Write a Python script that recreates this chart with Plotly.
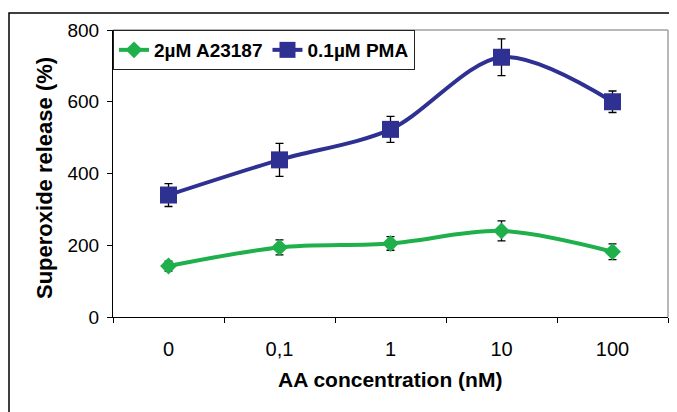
import plotly.graph_objects as go

categories = ["0", "0,1", "1", "10", "100"]
a23187_values = [142, 194, 205, 240, 182]
a23187_errors = [14, 21, 19, 28, 22]
pma_values = [340, 438, 523, 724, 600]
pma_errors = [32, 46, 36, 51, 30]
y_ticks = [0, 200, 400, 600, 800]

GREEN = "#1FB04B"
NAVY = "#2E3192"
FONT = "Liberation Sans, Arial, sans-serif"

# page body has an 8px margin; figure is placed at (8, 8) in the window
OFF = 8
PL, PR, PT, PB = 113, 668, 30, 317  # plot area in window pixels
W, H = 677 - OFF, 412 - OFF
PW, PH = PR - PL, PB - PT

fig = go.Figure()
fig.add_trace(go.Scatter(
    x=categories, y=a23187_values, name="2µM A23187",
    mode="lines+markers",
    line=dict(color=GREEN, width=4, shape="spline", smoothing=0.9),
    marker=dict(symbol="diamond", size=13, color=GREEN),
    error_y=dict(type="data", array=a23187_errors, color="black", thickness=1.3, width=4),
))
fig.add_trace(go.Scatter(
    x=categories, y=pma_values, name="0.1µM PMA",
    mode="lines+markers",
    line=dict(color=NAVY, width=4, shape="spline", smoothing=0.9),
    marker=dict(symbol="square", size=17, color=NAVY),
    error_y=dict(type="data", array=pma_errors, color="black", thickness=1.3, width=4),
))

fig.update_layout(
    width=W, height=H,
    margin=dict(l=PL - OFF, r=W - (PR - OFF), t=PT - OFF, b=H - (PB - OFF), autoexpand=False),
    paper_bgcolor="white", plot_bgcolor="white",
    showlegend=True,
    legend=dict(
        orientation="h", x=0, y=1, xanchor="left", yanchor="top",
        bordercolor="#222222", borderwidth=1, bgcolor="white",
        font=dict(family=FONT, size=19, color="black", weight="bold"),
        tracegroupgap=0,
    ),
    xaxis=dict(
        type="category", categoryorder="array", categoryarray=categories,
        tickmode="array", tickvals=categories, ticktext=categories,
        tickson="boundaries", ticks="outside", ticklen=5, tickcolor="black",
        ticklabelstandoff=14,
        showline=True, linecolor="black", linewidth=1, automargin=False,
        mirror=False, showgrid=False, zeroline=False,
        tickfont=dict(family=FONT, size=20, color="black"),
        range=[-0.5, 4.5],
    ),
    yaxis=dict(
        range=[0, 800], tickmode="array", tickvals=y_ticks,
        ticks="outside", ticklen=5, tickcolor="black",
        ticklabelstandoff=4,
        showline=True, linecolor="black", linewidth=1, automargin=False,
        showgrid=False, zeroline=False,
        tickfont=dict(family=FONT, size=19, color="black"),
    ),
    annotations=[
        dict(text="AA concentration (nM)", xref="paper", yref="paper",
             x=(390 - PL) / PW, y=(PB - 379) / PH, xanchor="center", yanchor="middle",
             showarrow=False, font=dict(family=FONT, size=21, color="black", weight="bold")),
        dict(text="Superoxide release (%)", xref="paper", yref="paper",
             x=(44 - PL) / PW, y=(PB - 178) / PH, xanchor="center", yanchor="middle",
             textangle=-90, showarrow=False,
             font=dict(family=FONT, size=22, color="black", weight="bold")),
    ],
    shapes=[
        dict(type="line", xref="paper", yref="paper", x0=0, x1=1, y0=1, y1=1,
             line=dict(color="#A0A0A0", width=1.5)),
        dict(type="line", xref="paper", yref="paper", x0=1, x1=1, y0=0, y1=1,
             line=dict(color="#A0A0A0", width=1.5)),
        dict(type="rect", xref="paper", yref="paper",
             x0=(9 - PL) / PW, x1=1.05, y0=-0.5, y1=(PB - 13) / PH,
             line=dict(color="black", width=1.5), layer="below"),
    ],
)

fig.write_html("out.html")
